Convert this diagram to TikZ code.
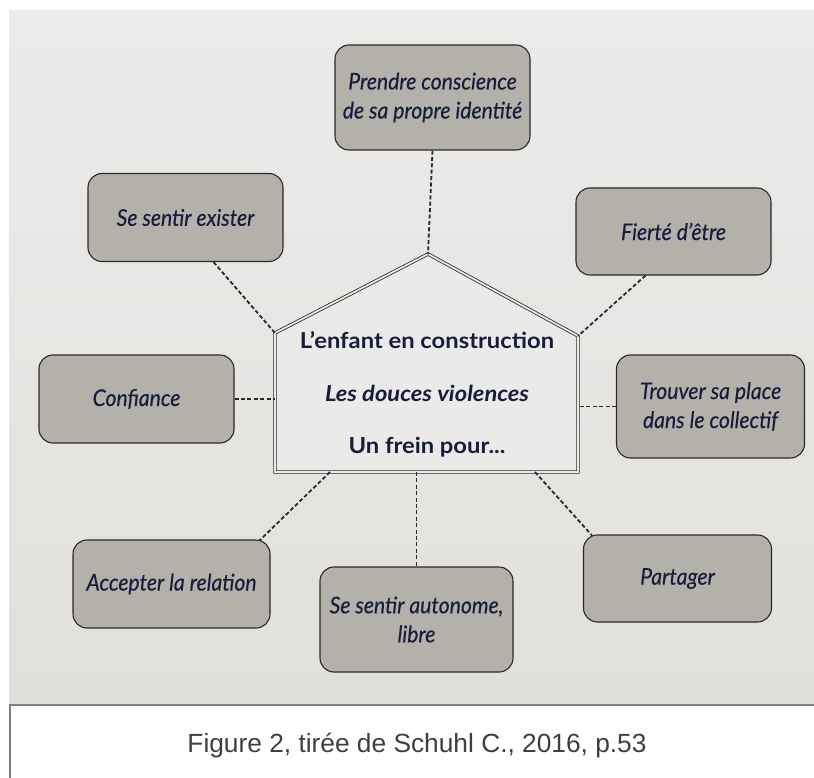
\documentclass[tikz,border=0pt]{standalone}
\usepackage{fontspec}
\setmainfont{Lato}
\newfontfamily\boxfont{Lato}[FakeStretch=0.92,FakeBold=0.3]
\newfontfamily\housefont{Lato}[FakeStretch=1.08]
\newfontfamily\capfont{Liberation Sans}
\usetikzlibrary{calc}
\definecolor{bgtop}{HTML}{EDEBEA}
\definecolor{bgbot}{HTML}{E1E0DC}
\definecolor{housefill}{HTML}{ECEAE9}
\definecolor{boxfill}{HTML}{B4B0AA}
\definecolor{ink}{HTML}{161C3C}
\definecolor{edge}{HTML}{2A2929}
\definecolor{capline}{HTML}{7B7E83}
\definecolor{captext}{HTML}{3F3F3F}
\begin{document}
\begin{tikzpicture}[x=1pt,y=-1pt,
  idea/.style={draw=edge, line width=1.1pt, fill=boxfill, rounded corners=14pt,
    minimum width=195pt, minimum height=88pt, align=center, text=ink,
    font=\boxfont\fontsize{23}{29}\selectfont\itshape, inner sep=0pt},
  link/.style={draw=edge, line width=1.8pt, dash pattern=on 4pt off 2.4pt},
  housetext/.style={text=ink, font=\housefont\fontsize{22}{25}\selectfont\bfseries, inner sep=0pt},
  caption/.style={text=captext, font=\capfont\fontsize{26.3}{30}\selectfont, inner sep=0pt}
]
\useasboundingbox (0,0) rectangle (814,778);
\fill[white] (0,0) rectangle (814,778);
\shade[top color=bgtop, bottom color=bgbot] (9,11) rectangle (814,704);
\draw[capline, line width=2.5pt] (814,705) -- (10,705) -- (10,778);

% house
\coordinate (bl) at (275,472);
\coordinate (eaveL) at (275,333);
\coordinate (apex) at (428,254);
\coordinate (eaveR) at (578,336);
\coordinate (br) at (578,472);
\fill[housefill] (bl) -- (eaveL) -- (apex) -- (eaveR) -- (br) -- cycle;
\draw[edge, line width=0.8pt, double=housefill, double distance=1.8pt]
  (bl) -- (eaveL) -- (apex) -- (eaveR) -- (br) -- cycle;
\node[housetext] (t1) at (427,340) {L’enfant en construction};
\node[housetext, font=\housefont\fontsize{22}{25}\selectfont\bfseries\itshape] (t2) at (427,393) {Les douces violences};
\node[housetext] (t3) at (427,447) {Un frein pour...};

% idea boxes
\node[idea, minimum height=105pt] (top) at (432.5,97.5) {Prendre conscience\\de sa propre identité};
\node[idea] (exister) at (185.5,217.5) {Se sentir exister};
\node[idea, minimum height=87pt] (fierte) at (673.5,231.5) {Fierté d’être};
\node[idea] (confiance) at (136.5,399) {Confiance};
\node[idea, minimum width=188pt, minimum height=103pt] (trouver) at (710.5,406.5) {Trouver sa place\\dans le collectif};
\node[idea, minimum width=197pt] (accepter) at (171.5,584) {Accepter la relation};
\node[idea, minimum width=193pt, minimum height=105pt] (autonome) at (416.5,619.5) {Se sentir autonome,\\libre};
\node[idea, minimum width=188pt, minimum height=87pt] (partager) at (677.5,578.5) {Partager};

% connectors
\coordinate (hb1) at (330,472);
\coordinate (hb2) at (autonome.north |- bl);
\coordinate (hb3) at (535,472);
\draw[link] (top.south) -- (apex);
\draw[link] ([xshift=28pt]exister.south) -- (eaveL);
\draw[link] ([xshift=-28pt]fierte.south) -- (eaveR);
\draw[link] (confiance.east) -- (confiance.east -| bl);
\draw[link] (trouver.west) -- (trouver.west -| br);
\draw[link] (hb1) -- ([xshift=-11pt,yshift=-1pt]accepter.north east);
\draw[link] (hb2) -- (autonome.north);
\draw[link] (hb3) -- ([xshift=9pt,yshift=-1pt]partager.north west);

% caption
\node[caption] (cap) at (417,746) {Figure 2, tirée de Schuhl C., 2016, p.53};
\end{tikzpicture}
\end{document}
